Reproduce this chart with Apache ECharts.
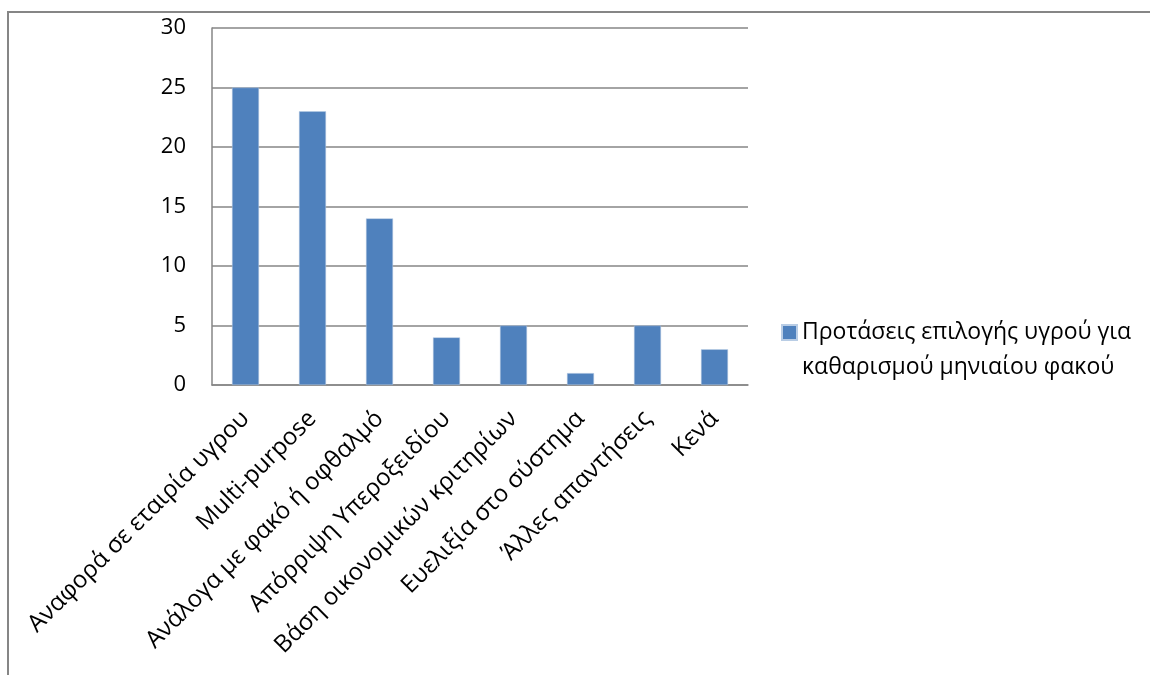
<!DOCTYPE html>
<html>
<head>
<meta charset="utf-8">
<script src="https://cdn.jsdelivr.net/npm/echarts@6/dist/echarts.min.js"></script>
<style>
  html, body { margin: 0; padding: 0; background: #ffffff; }
  #chart { width: 1150px; height: 675px; }
</style>
</head>
<body>
<div id="chart"></div>
<script>
// Suggestions for choosing a cleaning solution for monthly lenses
const categories = [
  'Αναφορά σε εταιρία υγρου',
  'Multi-purpose',
  'Ανάλογα με φακό ή οφθαλμό',
  'Απόρριψη Υπεροξειδίου',
  'Βάση οικονομικών κριτηρίων',
  'Ευελιξία στο σύστημα',
  'Άλλες απαντήσεις',
  'Κενά'
];
const values = [25, 23, 14, 4, 5, 1, 5, 3];
const seriesName = 'Προτάσεις επιλογής υγρού για\nκαθαρισμού μηνιαίου φακού';

const FONT = '"Open Sans", "Noto Sans", sans-serif';
const chart = echarts.init(document.getElementById('chart'));

chart.setOption({
  animation: false,
  backgroundColor: '#ffffff',
  textStyle: { fontFamily: FONT },
  graphic: [{
    type: 'rect',
    shape: { x: 8, y: 12, width: 1200, height: 700 },
    style: { fill: 'none', stroke: '#868686', lineWidth: 2 },
    silent: true
  }],
  legend: {
    left: 781,
    top: 280,
    padding: 0,
    orient: 'vertical',
    itemWidth: 15,
    itemHeight: 15,
    itemGap: 4,
    icon: 'rect',
    // a leading blank line keeps the first text line level with the swatch
    formatter: name => ' \n' + name,
    textStyle: { fontFamily: FONT, fontSize: 23, color: '#000', lineHeight: 35 },
    data: [seriesName]
  },
  grid: { left: 212, right: 402, top: 28, bottom: 290, containLabel: false },
  xAxis: {
    type: 'category',
    data: categories,
    axisLine: { show: true, lineStyle: { color: '#868686', width: 1.5 } },
    axisTick: { show: false },
    axisLabel: {
      rotate: 45,
      interval: 0,
      margin: 30,
      fontFamily: FONT,
      fontSize: 24,
      color: '#000'
    }
  },
  yAxis: {
    type: 'value',
    min: 0,
    max: 30,
    interval: 5,
    axisLine: { show: true, lineStyle: { color: '#868686', width: 1.5 } },
    axisTick: { show: false },
    splitLine: { lineStyle: { color: '#868686', width: 1.5 } },
    axisLabel: { fontFamily: FONT, fontSize: 22, color: '#000', margin: 26 }
  },
  series: [{
    name: seriesName,
    type: 'bar',
    data: values,
    barWidth: 27,
    itemStyle: { color: '#4f81bd', borderColor: '#b9cde5', borderWidth: 0.5 }
  }]
});
</script>
</body>
</html>
